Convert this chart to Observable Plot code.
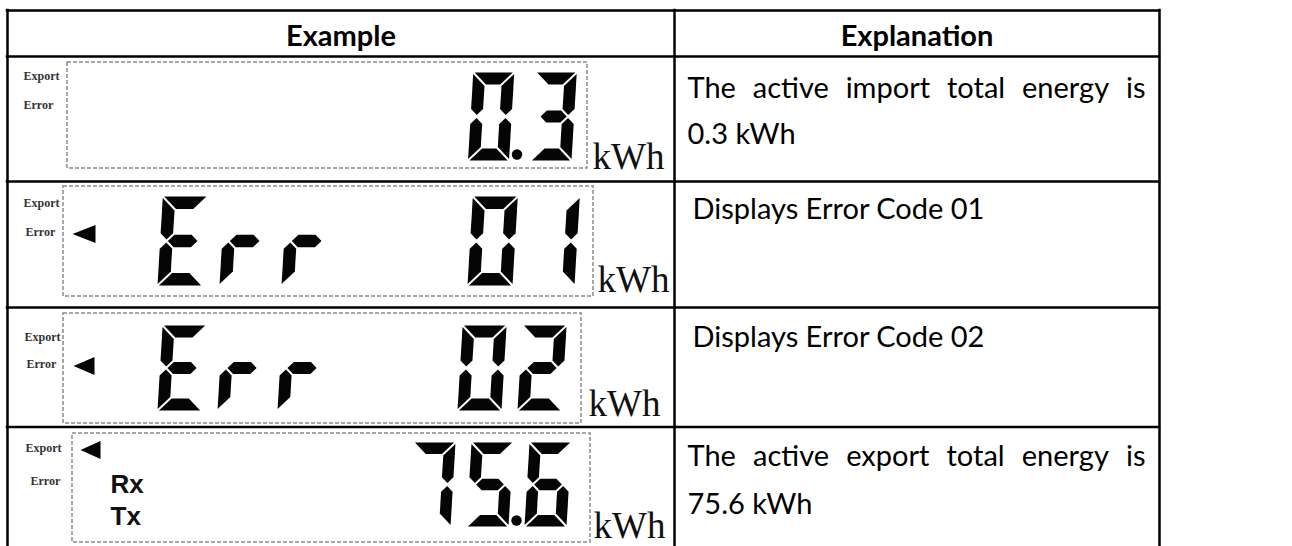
<!DOCTYPE html>
<html><head><meta charset="utf-8">
<script src="https://cdn.jsdelivr.net/npm/d3@7"></script>
<script src="https://cdn.jsdelivr.net/npm/@observablehq/plot@0.6"></script>
<style>html,body{margin:0;padding:0;background:#fff;}</style>
</head><body><div id="chart"></div>
<script>
// ---------------- data ----------------
const headers = ["Example", "Explanation"];
const displays = ["0.3", "Err  01", "Err  02", "75.6"];
const unitLabel = "kWh";
const statusLabels = ["Export", "Error"];
const arrowAt = [null, "Error", "Error", "Export"];
const commLabels = [[], [], [], ["Rx", "Tx"]];
const explanations = [
  ["The active import total energy is", "0.3 kWh"],
  ["Displays Error Code 01"],
  ["Displays Error Code 02"],
  ["The active export total energy is", "75.6 kWh"]
];
const segmentsOf = {"0":"abcdef","1":"bc","2":"abdeg","3":"abcdg","5":"acdfg","6":"acdefg","7":"abc","E":"adefg","r":"eg"," ":""};

// ---------------- layout ----------------
const W = 1292, H = 546;
const table = {left: 7, mid: 674, right: 1159, top: 10, header: 56, rows: [181, 307, 426.5]};
const headerBaseline = 45;
const justifyRight = 1145;
const slant = 0.06, gap = 1.4, slots = 7;
const bodyFont = "Lato, 'Open Sans', sans-serif";
const bodySize = 29;
const rowLayout = [
  {box:[67,587,62,168], status:[[23,79],[23,108]], top:72, h:88, slot0:155, pitch:62.5, w:41, t:12, unit:[592,168], textX:687, textY:[97,143], arrow:null},
  {box:[63,593,186,296], status:[[23,206],[25,235]], top:196, h:89, slot0:157, pitch:62, w:45, t:12.5, unit:[597,291], textX:692, textY:[218], arrow:{tip:72, len:23}},
  {box:[63,581,313,423], status:[[24,340],[26,367]], top:325, h:85, slot0:157, pitch:60, w:44, t:12, unit:[588,415], textX:692, textY:[346], arrow:{tip:73, len:21}},
  {box:[72,590,433,542], status:[[25,451],[30,484]], top:442, h:84, slot0:176, pitch:58, w:42, t:11.5, unit:[593,537], textX:687, textY:[465,513], arrow:{tip:80, len:20}, comm:{x:110, y:[492,524]}}
];

// ---------------- geometry helpers ----------------
function segShape(s, w, h, t, g) {
  const hw = t / 2, M = h / 2;
  switch (s) {
    case "a": return [[g,0],[w-g,0],[w-t-g,t],[t+g,t]];
    case "b": return [[w,g],[w,M-hw-g],[w-hw,M-g],[w-t,M-hw-g],[w-t,t+g]];
    case "c": return [[w-hw,M+g],[w,M+hw+g],[w,h-g],[w-t,h-t-g],[w-t,M+hw+g]];
    case "d": return [[t+g,h-t],[w-t-g,h-t],[w-g,h],[g,h]];
    case "e": return [[hw,M+g],[t,M+hw+g],[t,h-t-g],[0,h-g],[0,M+hw+g]];
    case "f": return [[0,g],[t,t+g],[t,M-hw-g],[hw,M-g],[0,M-hw-g]];
    case "g": return [[hw+g,M],[t+g,M-hw],[w-t-g,M-hw],[w-hw-g,M],[w-t-g,M+hw],[t+g,M+hw]];
  }
  return [];
}
function tokens(str) {
  const out = [];
  for (const c of str) {
    if (c === "." && out.length) out[out.length - 1].dp = true;
    else out.push({c, dp: false});
  }
  return out;
}
const measureCtx = document.createElement("canvas").getContext("2d");
measureCtx.font = `${bodySize}px Lato`;
function justify(line, x0, x1, y) {
  const words = line.split(" ");
  const widths = words.map(w => measureCtx.measureText(w).width);
  const total = d3.sum(widths);
  const space = (x1 - x0 - total) / Math.max(1, words.length - 1);
  let x = x0;
  return words.map((w, i) => { const item = {text: w, x, y}; x += widths[i] + space; return item; });
}

// ---------------- build mark data ----------------
const hLines = [table.top, table.header, ...table.rows];
const vLines = [table.left, table.mid, table.right];
const headerText = [
  {text: headers[0], x: (table.left + table.mid) / 2, y: headerBaseline},
  {text: headers[1], x: (table.mid + table.right) / 2, y: headerBaseline}
];
const boxes = [], segPts = [], arrowPts = [], dps = [], units = [], status = [], comm = [], bodyWords = [];
displays.forEach((str, r) => {
  const L = rowLayout[r];
  boxes.push({x1: L.box[0], x2: L.box[1], y1: L.box[2], y2: L.box[3]});
  const tk = tokens(str);
  const start = slots - tk.length;
  tk.forEach((tok, k) => {
    const x0 = L.slot0 + (start + k) * L.pitch;
    for (const s of segmentsOf[tok.c] || "") {
      const id = `${r}-${k}-${s}`;
      for (const [u, v] of segShape(s, L.w, L.h, L.t, gap))
        segPts.push({id, x: x0 + u + (L.h - v) * slant, y: L.top + v});
    }
    if (tok.dp) dps.push({x: x0 + L.w + 8, y: L.top + L.h - 6});
  });
  units.push({text: unitLabel, x: L.unit[0], y: L.unit[1]});
  statusLabels.forEach((lab, j) => status.push({text: lab, x: L.status[j][0], y: L.status[j][1]}));
  if (arrowAt[r]) {
    const j = statusLabels.indexOf(arrowAt[r]);
    const ty = L.status[j][1] - 1.5, tx = L.arrow.tip, bx = tx + L.arrow.len;
    const id = `arrow-${r}`;
    arrowPts.push({id, x: tx, y: ty}, {id, x: bx, y: ty - 9}, {id, x: bx, y: ty + 9});
  }
  commLabels[r].forEach((lab, j) => comm.push({text: lab, x: L.comm.x, y: L.comm.y[j]}));
  explanations[r].forEach((line, j) => {
    if (explanations[r].length > 1 && j === 0) bodyWords.push(...justify(line, L.textX, justifyRight, L.textY[j]));
    else bodyWords.push({text: line, x: L.textX, y: L.textY[j]});
  });
});

const chart = Plot.plot({
  width: W, height: H, margin: 0,
  x: {domain: [0, W], range: [0, W], axis: null},
  y: {domain: [0, H], range: [0, H], axis: null},
  style: {background: "#fff"},
  marks: [
    Plot.rect(boxes, {x1: "x1", x2: "x2", y1: "y1", y2: "y2", fill: "none", stroke: "#8a8a8a", strokeWidth: 1.5, strokeDasharray: "4,2"}),
    Plot.line(segPts, {x: "x", y: "y", z: "id", fill: "#050505", stroke: "none", curve: "linear-closed"}),
    Plot.line(arrowPts, {x: "x", y: "y", z: "id", fill: "#050505", stroke: "none", curve: "linear-closed"}),
    Plot.dot(dps, {x: "x", y: "y", r: 5.2, fill: "#050505", stroke: "none"}),
    Plot.text(units, {x: "x", y: "y", text: "text", fontFamily: "'Liberation Serif', serif", fontSize: 37, textAnchor: "start", lineAnchor: "bottom", fill: "#111", ariaLabel: "unit"}),
    Plot.text(status, {x: "x", y: "y", text: "text", fontFamily: "'Liberation Serif', serif", fontWeight: "bold", fontSize: 12, textAnchor: "start", lineAnchor: "bottom", fill: "#333", ariaLabel: "status"}),
    Plot.text(comm, {x: "x", y: "y", text: "text", fontFamily: "'Liberation Sans', Arial, sans-serif", fontWeight: "bold", fontSize: 26, textAnchor: "start", lineAnchor: "bottom", fill: "#111"}),
    Plot.text(headerText, {x: "x", y: "y", text: "text", fontFamily: bodyFont, fontWeight: "bold", fontSize: 29, textAnchor: "middle", lineAnchor: "bottom", fill: "#000"}),
    Plot.text(bodyWords, {x: "x", y: "y", text: "text", fontFamily: bodyFont, fontSize: bodySize, textAnchor: "start", lineAnchor: "bottom", fill: "#000"}),
    Plot.ruleY(hLines, {y: d => d, x1: table.left - 1.25, x2: table.right + 1.25, stroke: "#000", strokeWidth: 2.5}),
    Plot.ruleX(vLines, {x: d => d, y1: table.top - 1.25, y2: H, stroke: "#000", strokeWidth: 2.5})
  ]
});
document.getElementById("chart").append(chart);

// post-layout text tweaks
const svg = d3.select(chart);
svg.selectAll('g[aria-label="unit"] text').each(function () {
  let tr = this.getAttribute("transform");
  if (!tr) {
    tr = `translate(${this.getAttribute("x") || 0},${this.getAttribute("y") || 0})`;
    this.removeAttribute("x"); this.removeAttribute("y");
  }
  this.setAttribute("transform", tr + " scale(1,1.25)");
});
svg.selectAll('g[aria-label="status"]').style("letter-spacing", "1.2px");
</script>
</body></html>
